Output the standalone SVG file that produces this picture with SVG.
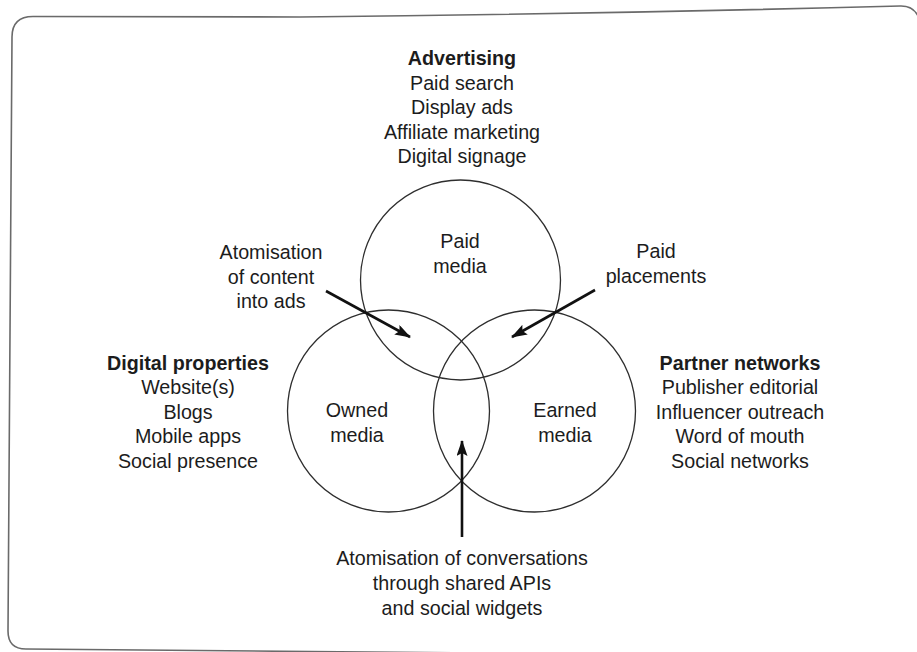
<svg xmlns="http://www.w3.org/2000/svg" width="917" height="652" viewBox="0 0 917 652">
  <style>
    text { font-family: "Liberation Sans", Arial, sans-serif; font-size: 19.7px; fill: #1c1c1c; text-anchor: middle; }
    .head { font-weight: bold; }
    .circle { fill: none; stroke: #2e2e2e; stroke-width: 1.3; }
    .frame { fill: none; stroke: #6a6a6a; stroke-width: 1.6; }
    .arrow { fill: none; stroke: #111; stroke-width: 2.6; marker-end: url(#head); }
  </style>
  <defs>
    <marker id="head" viewBox="0 0 16 11" refX="15" refY="5.5" markerWidth="16" markerHeight="11" markerUnits="userSpaceOnUse" orient="auto">
      <path d="M0,0 L16,5.5 L0,11 L3,5.5 z" fill="#111"/>
    </marker>
  </defs>

  <rect width="917" height="652" fill="#ffffff"/>

  <!-- outer frame -->
  <path class="frame" d="M926,657 L26,649 Q8,649 8,631 L12,37 Q12,16.5 33,16.5 L300,17 Q600,14 900,6 Q914,5.5 919,18"/>

  <!-- three overlapping circles -->
  <g id="paid-media">
    <circle class="circle" cx="460.5" cy="280" r="100"/>
    <text x="460" y="248">Paid</text>
    <text x="460" y="272.5">media</text>
  </g>
  <g id="owned-media">
    <circle class="circle" cx="388.5" cy="411" r="101"/>
    <text x="357" y="417">Owned</text>
    <text x="357" y="441.5">media</text>
  </g>
  <g id="earned-media">
    <circle class="circle" cx="534.5" cy="411" r="101"/>
    <text x="565" y="417">Earned</text>
    <text x="565" y="441.5">media</text>
  </g>

  <!-- channel lists -->
  <g id="advertising">
    <text class="head" x="462" y="65">Advertising</text>
    <text x="462" y="89.5">Paid search</text>
    <text x="462" y="114">Display ads</text>
    <text x="462" y="138.5">Affiliate marketing</text>
    <text x="462" y="163">Digital signage</text>
  </g>
  <g id="digital-properties">
    <text class="head" x="188" y="369.5">Digital properties</text>
    <text x="188" y="394">Website(s)</text>
    <text x="188" y="418.5">Blogs</text>
    <text x="188" y="443">Mobile apps</text>
    <text x="188" y="467.5">Social presence</text>
  </g>
  <g id="partner-networks">
    <text class="head" x="740" y="369.5">Partner networks</text>
    <text x="740" y="394">Publisher editorial</text>
    <text x="740" y="418.5">Influencer outreach</text>
    <text x="740" y="443">Word of mouth</text>
    <text x="740" y="467.5">Social networks</text>
  </g>

  <!-- overlap annotations -->
  <g id="atomisation-content">
    <text x="271" y="259">Atomisation</text>
    <text x="271" y="283.5">of content</text>
    <text x="271" y="308">into ads</text>
  </g>
  <g id="paid-placements">
    <text x="656" y="258">Paid</text>
    <text x="656" y="282.5">placements</text>
  </g>
  <g id="atomisation-conversations">
    <text x="462" y="565">Atomisation of conversations</text>
    <text x="462" y="590">through shared APIs</text>
    <text x="462" y="614.5">and social widgets</text>
  </g>

  <!-- pointers into the overlaps -->
  <g id="connectors">
    <line class="arrow" x1="326" y1="291" x2="410" y2="337"/>
    <line class="arrow" x1="595" y1="290" x2="512" y2="337"/>
    <line class="arrow" x1="462" y1="537" x2="462" y2="441"/>
  </g>
</svg>
